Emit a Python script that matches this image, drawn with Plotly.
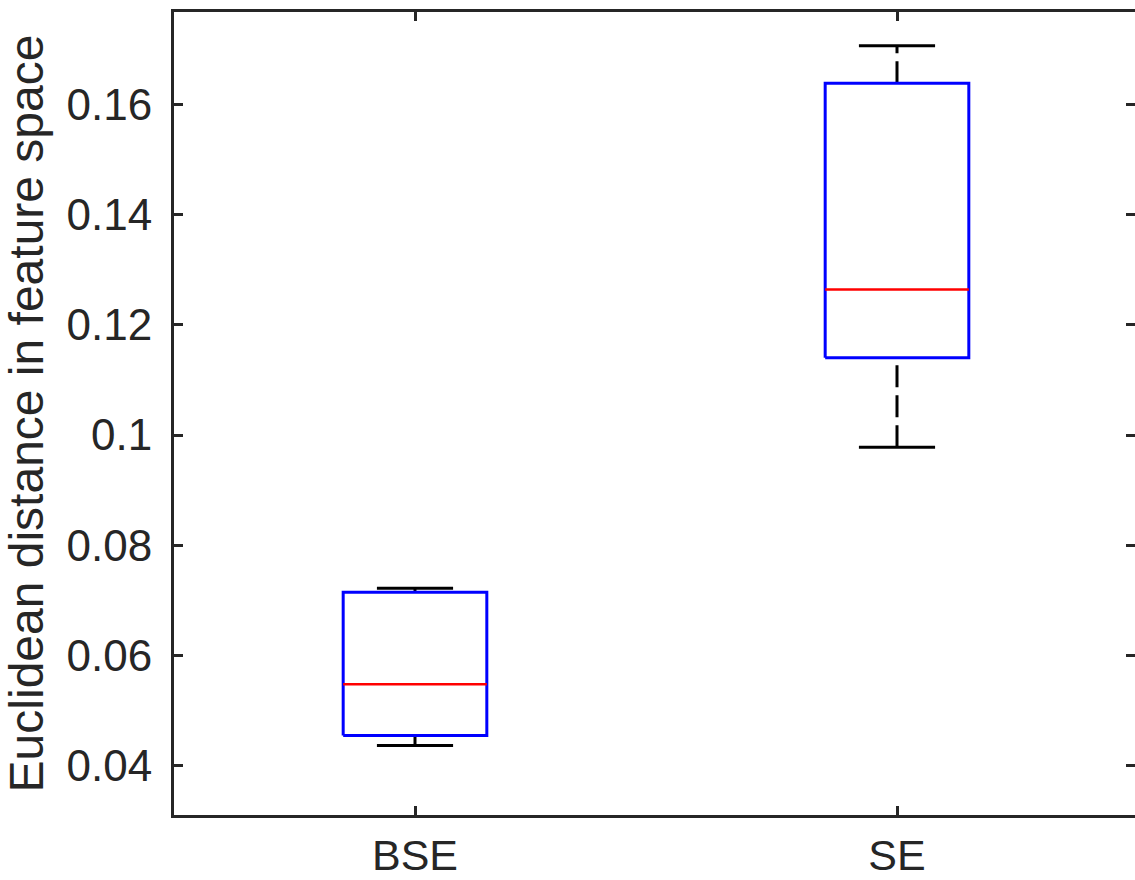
import plotly.graph_objects as go

categories = ["BSE", "SE"]
positions = [1, 2]
lower_whisker = [0.0437, 0.0978]
q1 = [0.0455, 0.1140]
median = [0.0548, 0.1264]
q3 = [0.0715, 0.1638]
upper_whisker = [0.0722, 0.1706]

y_tickvals = [0.04, 0.06, 0.08, 0.10, 0.12, 0.14, 0.16]
y_ticktext = ["0.04", "0.06", "0.08", "0.1", "0.12", "0.14", "0.16"]

BOX_HALF = 0.149
CAP_HALF = 0.079
AXIS_COLOR = "#262626"
FONT = "Liberation Sans, Arial, sans-serif"

fig = go.Figure()

for i, x in enumerate(positions):
    # dashed whiskers
    fig.add_trace(go.Scatter(x=[x, x], y=[q3[i], upper_whisker[i]], mode="lines",
                             line=dict(color="black", width=3, dash="22px,8px"),
                             hoverinfo="skip", showlegend=False))
    fig.add_trace(go.Scatter(x=[x, x], y=[lower_whisker[i], q1[i]], mode="lines",
                             line=dict(color="black", width=3, dash="22px,8px"),
                             hoverinfo="skip", showlegend=False))
    # caps
    for v in (upper_whisker[i], lower_whisker[i]):
        fig.add_trace(go.Scatter(x=[x - CAP_HALF, x + CAP_HALF], y=[v, v], mode="lines",
                                 line=dict(color="black", width=3),
                                 hoverinfo="skip", showlegend=False))
    # box
    fig.add_trace(go.Scatter(
        x=[x - BOX_HALF, x + BOX_HALF, x + BOX_HALF, x - BOX_HALF, x - BOX_HALF],
        y=[q1[i], q1[i], q3[i], q3[i], q1[i]], mode="lines",
        line=dict(color="#0000FF", width=3), hoverinfo="skip", showlegend=False))
    # median
    fig.add_trace(go.Scatter(x=[x - BOX_HALF, x + BOX_HALF], y=[median[i], median[i]],
                             mode="lines", line=dict(color="#FF0000", width=2.5),
                             hoverinfo="skip", showlegend=False))

# dummy trace for right-side tick axis
fig.add_trace(go.Scatter(x=[1], y=[0.1], yaxis="y2", mode="markers",
                         marker=dict(opacity=0), hoverinfo="skip", showlegend=False))

yrange = [0.0311, 0.1767]
xrange = [0.5, 0.5 + (1135 - 174) / 482]

fig.update_layout(
    width=1135, height=880,
    margin=dict(l=174, r=0, t=12, b=65),
    paper_bgcolor="white", plot_bgcolor="white",
    font=dict(family=FONT, color=AXIS_COLOR),
    xaxis=dict(range=xrange, tickvals=positions, ticktext=categories,
               showline=True, linecolor=AXIS_COLOR, linewidth=3, mirror="ticks",
               ticks="inside", ticklen=9, tickwidth=3, tickcolor=AXIS_COLOR,
               showgrid=False, zeroline=False, tickfont=dict(size=43, color=AXIS_COLOR),
               ticklabelstandoff=0, automargin=False),
    yaxis=dict(range=yrange, tickvals=y_tickvals, ticktext=y_ticktext,
               showline=True, linecolor=AXIS_COLOR, linewidth=3,
               ticks="inside", ticklen=9, tickwidth=3, tickcolor=AXIS_COLOR,
               showgrid=False, zeroline=False, tickfont=dict(size=44, color=AXIS_COLOR),
               ticklabelstandoff=10, automargin=False,
               title=dict(text="Euclidean distance in feature space",
                          font=dict(size=48, color=AXIS_COLOR), standoff=8)),
    yaxis2=dict(range=yrange, overlaying="y", side="right", tickvals=y_tickvals,
                showticklabels=False, showline=False, ticks="inside", ticklen=9,
                tickwidth=3, tickcolor=AXIS_COLOR, showgrid=False, zeroline=False,
                automargin=False),
)

fig.write_html("out.html")
